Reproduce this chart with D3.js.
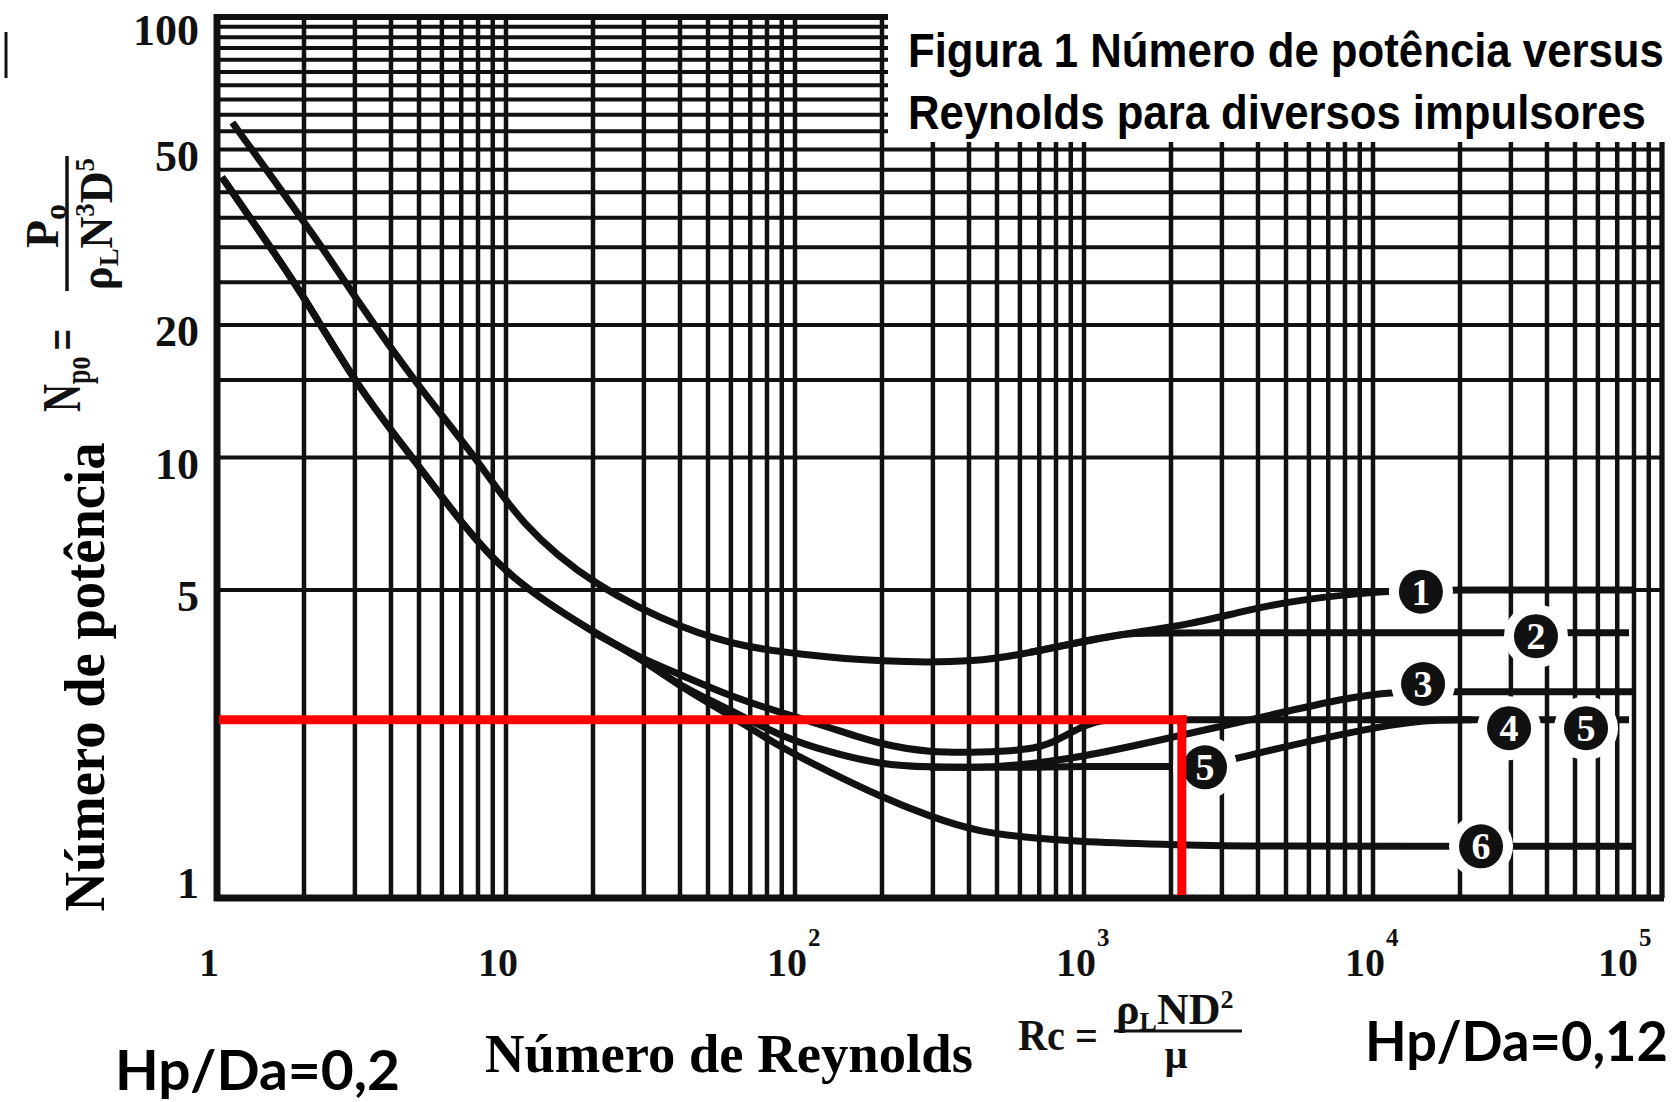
<!DOCTYPE html>
<html>
<head>
<meta charset="utf-8">
<script src="https://cdn.jsdelivr.net/npm/d3@7"></script>
<style>
  body { margin: 0; background: #fff; }
  svg { display: block; }
</style>
</head>
<body>
<svg id="chart"></svg>
<script>
// values: Reynolds number (x) vs power number (y)
const reDecades = [1, 10, 100, 1000, 10000, 100000];
const npLabels = [1, 5, 10, 20, 50, 100];
const npGrid = [1, 5, 10, 15, 20, 25, 30, 35, 40, 45, 50, 55, 60, 65, 70, 75, 80, 85, 90, 95, 100];

// each curve as [Re, Np]; branches repeat the shared part so they join smoothly
const curve1 = [[1.13, 57.6], [2.33, 29.9], [2.96, 23.4], [4.92, 14.6], [7.94, 9.95], [11.2, 7.07],
  [20, 5.11], [43, 4.02], [68, 3.71], [102, 3.58], [197, 3.43], [437, 3.43], [650, 3.61],
  [968, 3.81], [1140, 3.88], [1480, 4.01], [2300, 4.17], [3640, 4.5], [5630, 4.77],
  [11300, 4.98], [14650, 5.0], [20000, 5.0], [81300, 5.0]];
const curve2 = [[650, 3.61], [968, 3.81], [1140, 3.9], [1480, 4.0], [2000, 4.0], [36640, 4.0], [76900, 4.0]];
const curve4 = [[1.04, 43.3], [1.375, 33.2], [1.94, 24.0], [3.05, 14.5], [4.77, 9.95],
  [7.04, 7.07], [10.3, 5.3], [20, 4.01], [29.8, 3.48], [40, 3.22], [59.6, 2.87], [88.7, 2.64],
  [132, 2.44], [197, 2.23], [293, 2.14], [437, 2.14], [650, 2.17], [781, 2.25], [968, 2.44],
  [1136, 2.54], [1400, 2.54], [76900, 2.54]];
const curve5 = [[1.04, 43.3], [1.375, 33.2], [1.94, 24.0], [3.05, 14.5], [4.77, 9.95],
  [7.04, 7.07], [10.3, 5.3], [20, 4.01], [29.8, 3.48], [40, 3.02], [59.6, 2.68], [88.7, 2.33],
  [132, 2.14], [197, 2.01], [293, 1.98], [437, 1.98], [650, 1.98], [968, 1.99], [2032, 1.99],
  [2622, 1.98], [3330, 2.08], [11640, 2.5], [17060, 2.54], [22000, 2.54]];
const curve3 = [[293, 1.98], [437, 1.98], [550, 1.99], [968, 2.08], [2100, 2.33], [2960, 2.45],
  [4850, 2.64], [8670, 2.87], [11640, 2.93], [14900, 2.94], [20000, 2.94], [79400, 2.94]];
const curve6 = [[20, 4.01], [29.8, 3.48], [40, 3.02], [59.6, 2.6], [88.7, 2.2], [132, 1.93],
  [197, 1.7], [293, 1.53], [437, 1.41], [650, 1.37], [968, 1.34], [2150, 1.32], [4000, 1.31],
  [23650, 1.31], [79400, 1.31]];

const curveLabels = [
  { id: "1", re: 14650, np: 4.96 },
  { id: "2", re: 36640, np: 3.93 },
  { id: "3", re: 14900, np: 3.06 },
  { id: "4", re: 29570, np: 2.43 },
  { id: "5", re: 54600, np: 2.43 },
  { id: "5", re: 2622, np: 1.98 },
  { id: "6", re: 23650, np: 1.31 }
];

// red reading lines
const redRe = 2180;
const redNp = 2.54;

const W = 1672, H = 1102;
const ink = "#111";
const serif = "'Liberation Serif', 'Times New Roman', serif";

const svg = d3.select("#chart").attr("width", W).attr("height", H);
svg.append("rect").attr("width", W).attr("height", H).attr("fill", "#fff");

const x = d3.scaleLog().domain([1, 1e5]).range([217, 1662]);
const y = d3.scaleLog().domain([1, 100]).range([898, 17]);

// squeeze a text horizontally to a given width (the scan uses condensed faces)
function fit(text, width, at, extra = "") {
  const n = text.node().getComputedTextLength();
  text.attr("x", 0).attr("y", 0)
    .attr("transform", `translate(${at[0]},${at[1]}) ${extra} scale(${width / n},1)`);
  return text;
}

// grid
const grid = svg.append("g").attr("stroke", ink);
grid.selectAll(".v").data(x.ticks()).join("line")
  .attr("class", "v")
  .attr("x1", d => x(d)).attr("x2", d => x(d))
  .attr("y1", y(100)).attr("y2", y(1))
  .attr("stroke-width", 4.5);
grid.selectAll(".h").data(npGrid).join("line")
  .attr("class", "h")
  .attr("x1", x(1)).attr("x2", x(1e5))
  .attr("y1", d => y(d)).attr("y2", d => y(d))
  .attr("stroke-width", 4);

// frame
grid.append("line").attr("x1", x(1)).attr("x2", x(1)).attr("y1", y(100) - 3).attr("y2", y(1) + 3).attr("stroke-width", 7);
grid.append("line").attr("x1", x(1) - 3).attr("x2", x(1e5) + 2).attr("y1", y(1)).attr("y2", y(1)).attr("stroke-width", 7);
grid.append("line").attr("x1", x(1) - 3).attr("x2", x(1e5)).attr("y1", y(100)).attr("y2", y(100)).attr("stroke-width", 6);
grid.append("line").attr("x1", x(1e5)).attr("x2", x(1e5)).attr("y1", y(100)).attr("y2", y(1)).attr("stroke-width", 5);

// curves
const line = d3.line().x(d => x(d[0])).y(d => y(d[1])).curve(d3.curveBasis);
svg.append("g")
  .selectAll("path")
  .data([curve1, curve2, curve3, curve4, curve5, curve6])
  .join("path")
  .attr("d", line)
  .attr("fill", "none")
  .attr("stroke", ink)
  .attr("stroke-width", 7)
  .attr("stroke-linejoin", "round");

// curve number badges, with a white gap cut around them
const badges = svg.append("g");
badges.selectAll(".gap").data(curveLabels).join("circle")
  .attr("class", "gap")
  .attr("cx", d => x(d.re)).attr("cy", d => y(d.np))
  .attr("r", 32).attr("fill", "#fff");
badges.selectAll(".dot").data(curveLabels).join("circle")
  .attr("class", "dot")
  .attr("cx", d => x(d.re)).attr("cy", d => y(d.np))
  .attr("r", 22).attr("fill", ink);
badges.selectAll("text").data(curveLabels).join("text")
  .attr("x", d => x(d.re)).attr("y", d => y(d.np) + 13)
  .attr("text-anchor", "middle")
  .attr("font-family", serif).attr("font-weight", "bold").attr("font-size", 38)
  .attr("fill", "#fff")
  .text(d => d.id);

// red reading lines
svg.append("line")
  .attr("x1", x(1) + 2).attr("x2", x(redRe) + 5)
  .attr("y1", y(redNp)).attr("y2", y(redNp))
  .attr("stroke", "#ff0000").attr("stroke-width", 9);
svg.append("line")
  .attr("x1", x(redRe)).attr("x2", x(redRe))
  .attr("y1", y(redNp) - 4.5).attr("y2", y(1) - 3)
  .attr("stroke", "#ff0000").attr("stroke-width", 9);

// y tick labels
svg.append("g").selectAll("text").data(npLabels).join("text")
  .attr("x", 199)
  .attr("y", d => Math.max(y(100) + 13, Math.min(y(d) + 6, y(1) - 15)) + 15)
  .attr("text-anchor", "end")
  .attr("font-family", serif).attr("font-weight", "bold").attr("font-size", 44)
  .attr("fill", ink)
  .text(d => d);

// x tick labels: 1, 10, 10^2 ... 10^5
const xl = svg.append("g").attr("font-family", serif).attr("font-weight", "bold").attr("fill", ink);
reDecades.forEach(v => {
  const p = Math.round(Math.log10(v));
  const cx = Math.min(x(v) - 8, 1618);
  xl.append("text")
    .attr("x", cx).attr("y", 976)
    .attr("text-anchor", "middle").attr("font-size", 40)
    .text(p === 0 ? "1" : "10");
  if (p > 1) {
    xl.append("text")
      .attr("x", cx + 21).attr("y", 946)
      .attr("font-size", 25)
      .text(p);
  }
});

// title box
svg.append("rect").attr("x", 888).attr("y", 0).attr("width", W - 888).attr("height", 142).attr("fill", "#fff");
const sans = "'Liberation Sans Narrow', 'Arial Narrow', 'Liberation Sans', Arial, sans-serif";
fit(svg.append("text")
  .attr("font-family", sans).attr("font-weight", "bold").attr("font-size", 49)
  .attr("fill", "#000")
  .text("Figura  1 Número de potência versus"), 756, [908, 67]);
fit(svg.append("text")
  .attr("font-family", sans).attr("font-weight", "bold").attr("font-size", 49)
  .attr("fill", "#000")
  .text("Reynolds para diversos impulsores"), 738, [908, 129]);

// axis titles
fit(svg.append("text")
  .attr("font-family", serif).attr("font-weight", "bold").attr("font-size", 54)
  .attr("fill", "#000")
  .text("Número de Reynolds"), 488, [485, 1072]);

fit(svg.append("text")
  .attr("text-anchor", "middle")
  .attr("font-family", serif).attr("font-weight", "bold").attr("font-size", 56)
  .attr("fill", "#000")
  .text("Número de potência"), 469, [104, 677], "rotate(-90)");

// Rc = rho_L N D^2 / mu
const rc = svg.append("g").attr("font-family", serif).attr("font-weight", "bold").attr("fill", ink);
fit(rc.append("text").attr("font-size", 44).text("Rc ="), 80, [1018, 1050]);
const num = rc.append("text").attr("x", 1116).attr("y", 1024).attr("font-size", 44);
num.append("tspan").text("ρ");
num.append("tspan").attr("font-size", 26).attr("dy", 6).text("L");
num.append("tspan").attr("dy", -6).text("ND");
num.append("tspan").attr("font-size", 26).attr("dy", -16).text("2");
rc.append("line").attr("x1", 1114).attr("x2", 1242).attr("y1", 1031).attr("y2", 1031)
  .attr("stroke", ink).attr("stroke-width", 3);
rc.append("text").attr("x", 1176).attr("y", 1068).attr("text-anchor", "middle").attr("font-size", 40).text("μ");

// Npo = Po / (rho_L N^3 D^5), written sideways
const f = svg.append("g")
  .attr("transform", "translate(80,412) rotate(-90)")
  .attr("font-family", serif).attr("font-weight", "bold").attr("fill", ink);
const lhs = f.append("text").attr("x", 0).attr("y", 0).attr("font-size", 54)
  .attr("transform", "scale(0.72,1)");
lhs.append("tspan").text("N");
lhs.append("tspan").attr("font-size", 36).attr("dy", 10).text("po");
lhs.append("tspan").attr("dy", -10).attr("dx", 8).text("=");
f.append("line").attr("x1", 121).attr("x2", 256).attr("y1", -13).attr("y2", -13)
  .attr("stroke", ink).attr("stroke-width", 3.5);
const numer = f.append("text").attr("x", 186).attr("y", -22).attr("font-size", 46).attr("text-anchor", "middle");
numer.append("tspan").text("P");
numer.append("tspan").attr("font-size", 32).attr("dy", 8).text("o");
const den = f.append("text").attr("font-size", 46).attr("text-anchor", "middle");
den.append("tspan").text("ρ");
den.append("tspan").attr("font-size", 28).attr("dy", 6).text("L");
den.append("tspan").attr("dy", -6).text("N");
den.append("tspan").attr("font-size", 28).attr("dy", -18).text("3");
den.append("tspan").attr("dy", 18).text("D");
den.append("tspan").attr("font-size", 28).attr("dy", -18).text("5");
fit(den, 132, [188, 32]);

// Hp/Da notes
const cal = "Lato, 'Open Sans', 'Liberation Sans', sans-serif";
fit(svg.append("text")
  .attr("font-family", cal).attr("font-weight", "bold").attr("font-size", 56)
  .attr("fill", "#000").text("Hp/Da=0,2"), 285, [115, 1090]);
fit(svg.append("text")
  .attr("font-family", cal).attr("font-weight", "bold").attr("font-size", 56)
  .attr("fill", "#000").text("Hp/Da=0,12"), 303, [1365, 1061]);

// stray mark at the top left of the scan
svg.append("line").attr("x1", 6).attr("x2", 6).attr("y1", 32).attr("y2", 78)
  .attr("stroke", ink).attr("stroke-width", 3);
</script>
</body>
</html>
